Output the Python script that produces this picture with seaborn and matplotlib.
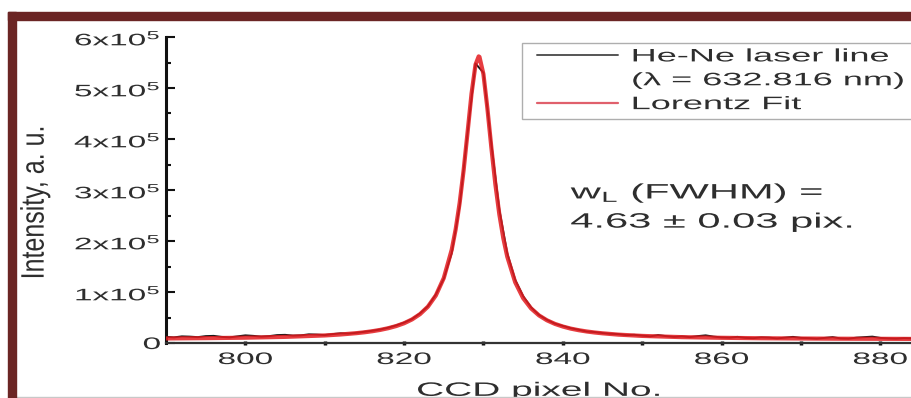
import numpy as np
import pandas as pd
import matplotlib
matplotlib.use("Agg")
import matplotlib.pyplot as plt
import seaborn as sns
from matplotlib.lines import Line2D
from matplotlib.patches import Rectangle
from matplotlib.patheffects import AbstractPathEffect
from matplotlib.transforms import Affine2D
from matplotlib.legend_handler import HandlerLine2D

# ---------------- data ----------------
pixel = list(range(790, 885))
intensity = [
    12000, 11000, 13000, 12500, 11500, 13500, 14000, 12000, 11000, 13000,
    15000, 14000, 12500, 13500, 15500, 16000, 14500, 15000, 17000, 16500,
    15500, 17500, 19000, 18500, 20000, 22000, 24000, 26500, 30000, 34500,
    40000, 47000, 58000, 72000, 95000, 126000, 176000, 268000, 412000, 548000,
    530000, 390000, 262000, 176000, 124000, 92000, 70000, 55000, 45500, 38000,
    33500, 29000, 26000, 22500, 21500, 19500, 18000, 17500, 15500, 16000,
    14500, 13000, 15500, 13500, 12000, 13000, 11500, 13500, 15000, 12500,
    11000, 10500, 12000, 10000, 9500, 11000, 10500, 9000, 10500, 12000,
    10000, 9500, 8500, 10000, 11500, 9000, 8500, 10500, 11500, 12500,
    10000, 9000, 8500, 9500, 9000,
]

fit_pixel = [790, 795, 800, 805, 810, 812, 814, 815, 816, 817, 818, 819, 820,
             821, 822, 823, 824, 825, 826, 826.5, 827, 827.5, 828, 828.5, 829,
             829.4, 829.5, 830, 830.5, 831, 831.5, 832, 832.5, 833, 834, 835,
             836, 837, 838, 839, 840, 841, 842, 843, 844, 845, 847, 850, 855,
             860, 865, 870, 875, 880, 884]
fit_intensity = [8900, 9500, 10400, 12000, 14800, 16700, 19300, 21000, 23100,
                 25700, 29000, 33200, 38700, 46200, 56500, 71200, 93200, 127300,
                 182800, 223000, 274500, 338600, 413300, 489100, 545900, 562000,
                 560900, 527000, 459700, 382600, 311400, 252400, 205700, 169300,
                 119100, 88000, 67800, 54100, 44500, 37500, 32300, 28200, 25100,
                 22600, 20600, 19000, 16400, 13900, 11500, 10200, 9300, 8800,
                 8400, 8200, 8000]

y_ticks = [0, 1e5, 2e5, 3e5, 4e5, 5e5, 6e5]
y_ticklabels = ["0", r"$\mathregular{1x10^5}$", r"$\mathregular{2x10^5}$",
                r"$\mathregular{3x10^5}$", r"$\mathregular{4x10^5}$",
                r"$\mathregular{5x10^5}$", r"$\mathregular{6x10^5}$"]
x_ticks = [800, 820, 840, 860, 880]
legend_labels = ["He-Ne laser line", "(\u03bb = 632.816 nm)", "Lorentz Fit"]
annot_lines = [r"w$_\mathregular{L}$ (FWHM) =", "4.63 \u00b1 0.03 pix."]


# ---------------- horizontal stretch effect for text ----------------
class Stretch(AbstractPathEffect):
    def __init__(self, sx=2.0, anchor="center"):
        super().__init__()
        self.sx = sx
        self.anchor = anchor

    def draw_path(self, renderer, gc, tpath, affine, rgbFace=None):
        ext = tpath.get_extents(affine)
        if self.anchor == "left":
            x0 = ext.x0
        elif self.anchor == "right":
            x0 = ext.x1
        else:
            x0 = 0.5 * (ext.x0 + ext.x1)
        new = affine + Affine2D().translate(-x0, 0).scale(self.sx, 1.0).translate(x0, 0)
        renderer.draw_path(gc, tpath, new, rgbFace)


sns.set_theme(style="ticks")
plt.rcParams["font.family"] = ["Liberation Sans", "DejaVu Sans"]
plt.rcParams["mathtext.fontset"] = "custom"
plt.rcParams["mathtext.rm"] = "Liberation Sans"

W, H = 912, 398
fig = plt.figure(figsize=(W / 100, H / 100), dpi=100)
fig.patch.set_facecolor("white")
ax = fig.add_axes([166 / W, (H - 343) / H, (912 - 166) / W, (343 - 37) / H])

df_data = pd.DataFrame({"pixel": pixel, "intensity": intensity})
df_fit = pd.DataFrame({"pixel": fit_pixel, "intensity": fit_intensity})

sns.lineplot(data=df_data, x="pixel", y="intensity", ax=ax, color="#1a1a1a",
             lw=1.4, zorder=2, estimator=None)
sns.lineplot(data=df_fit, x="pixel", y="intensity", ax=ax, color="#e31b1f",
             lw=3.0, alpha=0.85, zorder=3, estimator=None)

ax.set_xlim(790, 884)
ax.set_ylim(0, 6e5)
ax.set_xticks(x_ticks)
ax.set_xticks([810, 830, 850, 870], minor=True)
ax.set_yticks(y_ticks)
ax.set_yticklabels(y_ticklabels)
ax.set_yticks([0.5e5, 1.5e5, 2.5e5, 3.5e5, 4.5e5, 5.5e5], minor=True)

for s in ["top", "right"]:
    ax.spines[s].set_visible(False)
ax.spines["left"].set_linewidth(2.2)
ax.spines["left"].set_color("#111111")
ax.spines["bottom"].set_linewidth(1.6)
ax.spines["bottom"].set_color("#333333")

ax.tick_params(axis="y", which="major", direction="in", length=6.5, width=1.5,
               color="#111111", labelsize=12, labelcolor="#2e2e2e", pad=4)
ax.tick_params(axis="y", which="minor", direction="in", length=3.5, width=1.5,
               color="#111111")
ax.tick_params(axis="x", which="both", direction="inout", length=3, width=2.5,
               color="#111111", labelsize=12, labelcolor="#2e2e2e", pad=5)

ax.set_xlabel("CCD pixel No.", fontsize=14, color="#2e2e2e", va="center")
ax.xaxis.set_label_coords(0.5, -0.158)
ax.set_ylabel("Intensity, a. u.", fontsize=18, color="#2e2e2e", va="center")
ax.yaxis.set_label_coords(-0.176, 0.459)

ax.xaxis.label.set_path_effects([Stretch(2.0, "center")])
ax.yaxis.label.set_path_effects([Stretch(1.3, "center")])
for t in ax.get_xticklabels():
    t.set_path_effects([Stretch(2.0, "center")])
for t in ax.get_yticklabels():
    t.set_path_effects([Stretch(2.0, "right")])

# annotation
ax.text(841, 2.94e5, annot_lines[0], fontsize=15, color="#2e2e2e",
        ha="left", va="center", path_effects=[Stretch(2.0, "left")])
ax.text(841, 2.37e5, annot_lines[1], fontsize=15, color="#2e2e2e",
        ha="left", va="center", path_effects=[Stretch(2.0, "left")])

# legend
handles = [Line2D([], [], color="#555555", lw=1.4),
           Line2D([], [], color="none", lw=0),
           Line2D([], [], color="#e0606c", lw=1.6)]
leg = ax.legend(handles, legend_labels, loc="upper left",
                bbox_to_anchor=(522 / W, (H - 116) / H, (940 - 522) / W, (116 - 43) / H),
                bbox_transform=fig.transFigure, mode="expand", borderaxespad=0,
                fontsize=13, frameon=True, fancybox=False, borderpad=0.3,
                labelspacing=0.38, handlelength=5.0, handletextpad=0.8,
                handler_map={Line2D: HandlerLine2D(xpad=0.55)})
leg.get_frame().set_edgecolor("#9a9a9a")
leg.get_frame().set_linewidth(1.0)
for t in leg.get_texts():
    t.set_color("#2e2e2e")
    t.set_path_effects([Stretch(2.0, "left")])

# maroon frame of the picture
frame_col = "#6b2524"
fig.patches.append(Rectangle((8 / W, (H - 20) / H), (912 - 8) / W, 8 / H,
                             transform=fig.transFigure, color=frame_col, zorder=10))
fig.patches.append(Rectangle((8 / W, 0), 8 / W, (H - 12) / H,
                             transform=fig.transFigure, color=frame_col, zorder=10))
fig.lines.append(Line2D([16 / W, 1], [0.7 / H, 0.7 / H], transform=fig.transFigure,
                        color="#c8c8c8", lw=1.0))

fig.savefig("out.png", dpi=100)
